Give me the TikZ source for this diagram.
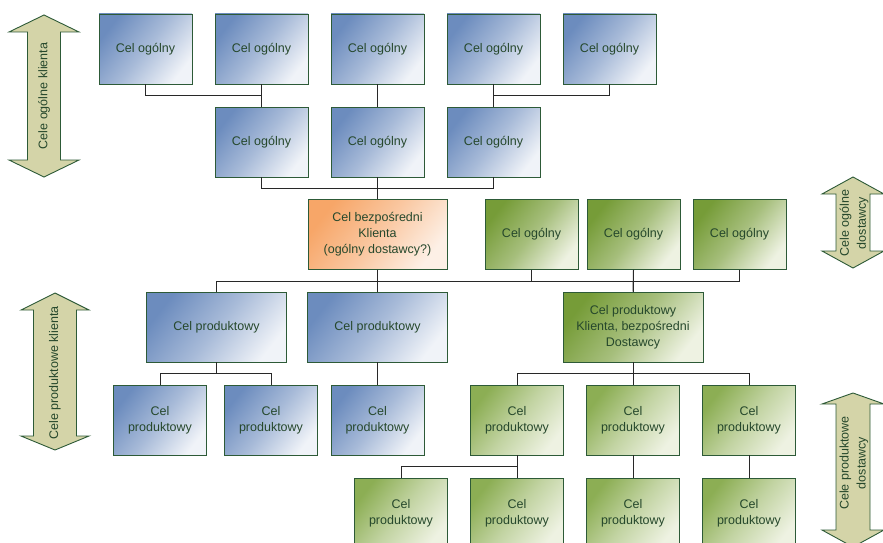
\documentclass[tikz,border=0pt]{standalone}
\usepackage{fontspec}
\setmainfont{Liberation Sans}
\begin{document}
\definecolor{txtgreen}{RGB}{38,72,44}
\definecolor{edgegreen}{RGB}{45,90,55}
\definecolor{blueD}{RGB}{108,140,190}
\definecolor{blueL}{RGB}{240,243,248}
\definecolor{greenD}{RGB}{118,156,56}
\definecolor{greenL}{RGB}{238,242,226}
\definecolor{greenM}{RGB}{140,174,84}
\definecolor{orangeD}{RGB}{247,166,104}
\definecolor{orangeL}{RGB}{253,240,230}
\definecolor{khaki}{RGB}{212,212,168}
\definecolor{linegray}{RGB}{40,40,40}
\begin{tikzpicture}[x=1pt,y=-1pt,
  boxbase/.style={draw=edgegreen, line width=0.9pt, rectangle, align=center,
    text=txtgreen, font=\fontsize{12.5}{16}\selectfont, inner sep=2pt},
  goal/.style={boxbase, minimum width=93pt, minimum height=70pt},
  widegoal/.style={boxbase, minimum width=140pt, minimum height=70pt},
  bluefill/.style={left color=blueD, right color=blueL, middle color=blueD!55!blueL, shading angle=52},
  greenfill/.style={left color=greenD, right color=greenL, middle color=greenD!60!greenL, shading angle=52},
  palegreenfill/.style={left color=greenM, right color=greenL, middle color=greenM!45!greenL, shading angle=52},
  orangefill/.style={left color=orangeD, right color=orangeL, middle color=orangeD!55!orangeL, shading angle=52},
  link/.style={draw=linegray, line width=1pt},
  band/.style={draw=edgegreen, line width=0.9pt, fill=khaki},
  bandtext/.style={text=txtgreen, font=\fontsize{12.5}{17}\selectfont, rotate=90, align=center}
]
\useasboundingbox (0,0) rectangle (883,543);
\clip (0,0) rectangle (883,543);

% customer general goals
\node[goal,bluefill] (t1) at (145.5,49) {Cel ogólny};
\node[goal,bluefill] (t2) at (261.5,49) {Cel ogólny};
\node[goal,bluefill] (t3) at (377.5,49) {Cel ogólny};
\node[goal,bluefill] (t4) at (493.5,49) {Cel ogólny};
\node[goal,bluefill] (t5) at (609.5,49) {Cel ogólny};
\node[goal,bluefill] (m1) at (261.5,142) {Cel ogólny};
\node[goal,bluefill] (m2) at (377.5,142) {Cel ogólny};
\node[goal,bluefill] (m3) at (493.5,142) {Cel ogólny};

% direct customer goal and supplier general goals
\node[widegoal,minimum width=139pt,orangefill] (o) at (377.5,234.5) {Cel bezpośredni\\Klienta\\(ogólny dostawcy?)};
\node[goal,greenfill] (g1) at (531.5,234.5) {Cel ogólny};
\node[goal,greenfill] (g2) at (633.5,234.5) {Cel ogólny};
\node[goal,greenfill] (g3) at (739.5,234.5) {Cel ogólny};

% product goals
\node[widegoal,bluefill] (p1) at (216.5,327) {Cel produktowy};
\node[widegoal,bluefill] (p2) at (377.5,327) {Cel produktowy};
\node[widegoal,greenfill] (gp) at (633,327) {Cel produktowy\\Klienta, bezpośredni\\Dostawcy};

\node[goal,bluefill] (s1) at (160,420) {Cel\\produktowy};
\node[goal,bluefill] (s2) at (271,420) {Cel\\produktowy};
\node[goal,bluefill] (s3) at (377.5,420) {Cel\\produktowy};
\node[goal,palegreenfill] (r1) at (517,420) {Cel\\produktowy};
\node[goal,palegreenfill] (r2) at (633,420) {Cel\\produktowy};
\node[goal,palegreenfill] (r3) at (749,420) {Cel\\produktowy};

\node[goal,palegreenfill] (q1) at (401,513) {Cel\\produktowy};
\node[goal,palegreenfill] (q2) at (517,513) {Cel\\produktowy};
\node[goal,palegreenfill] (q3) at (633,513) {Cel\\produktowy};
\node[goal,palegreenfill] (q4) at (749,513) {Cel\\produktowy};

% connectors
\draw[link] (t1.south) -- ++(0,11) -| (m1.north);
\draw[link] (t2.south) -- (m1.north);
\draw[link] (t3.south) -- (m2.north);
\draw[link] (t4.south) -- (m3.north);
\draw[link] (t5.south) -- ++(0,11) -| (m3.north);

\draw[link] (m1.south) -- ++(0,11) -| (o.north);
\draw[link] (m2.south) -- (o.north);
\draw[link] (m3.south) -- ++(0,11) -| (o.north);

\draw[link] (o.south) -- (p2.north);
\draw[link] (o.south) -- ++(0,12) -| (p1.north);
\draw[link] (o.south) -- ++(0,12) -| (gp.north);
\draw[link] (g1.south) -- ++(0,12) -| (gp.north);
\draw[link] (g2.south) -- (gp.north);
\draw[link] (g3.south) -- ++(0,12) -| (gp.north);

\draw[link] (p1.south) -- ++(0,11) -| (s1.north);
\draw[link] (p1.south) -- ++(0,11) -| (s2.north);
\draw[link] (p2.south) -- (s3.north);
\draw[link] (gp.south) -- (r2.north);
\draw[link] (gp.south) -- ++(0,11) -| (r1.north);
\draw[link] (gp.south) -- ++(0,11) -| (r3.north);

\draw[link] (r1.south) -- (q2.north);
\draw[link] (r1.south) -- ++(0,11) -| (q1.north);
\draw[link] (r2.south) -- (q3.north);
\draw[link] (r3.south) -- (q4.north);

% side bands (double-headed block arrows)
\draw[band] (44,15) -- (79,32) -- (60.5,32) -- (60.5,160) -- (79,160) -- (44,177)
  -- (9,160) -- (27.5,160) -- (27.5,32) -- (9,32) -- cycle;
\node[bandtext] (bt1) at (44,96) {Cele ogólne klienta};

\draw[band] (55,293) -- (89,310) -- (76.5,310) -- (76.5,436) -- (89,436) -- (55,450)
  -- (21,436) -- (33.5,436) -- (33.5,310) -- (21,310) -- cycle;
\node[bandtext] (bt2) at (55,373) {Cele produktowe klienta};

\draw[band] (853,177) -- (884,194) -- (870,194) -- (870,251) -- (884,251) -- (853,268)
  -- (822,251) -- (836,251) -- (836,194) -- (822,194) -- cycle;
\node[bandtext] (bt3) at (854,223) {Cele ogólne\\dostawcy};

\draw[band] (853,393) -- (884,404) -- (870,404) -- (870,530) -- (884,530) -- (853,547)
  -- (822,530) -- (836,530) -- (836,404) -- (822,404) -- cycle;
\node[bandtext] (bt4) at (854,463) {Cele produktowe\\dostawcy};
\end{tikzpicture}
\end{document}
